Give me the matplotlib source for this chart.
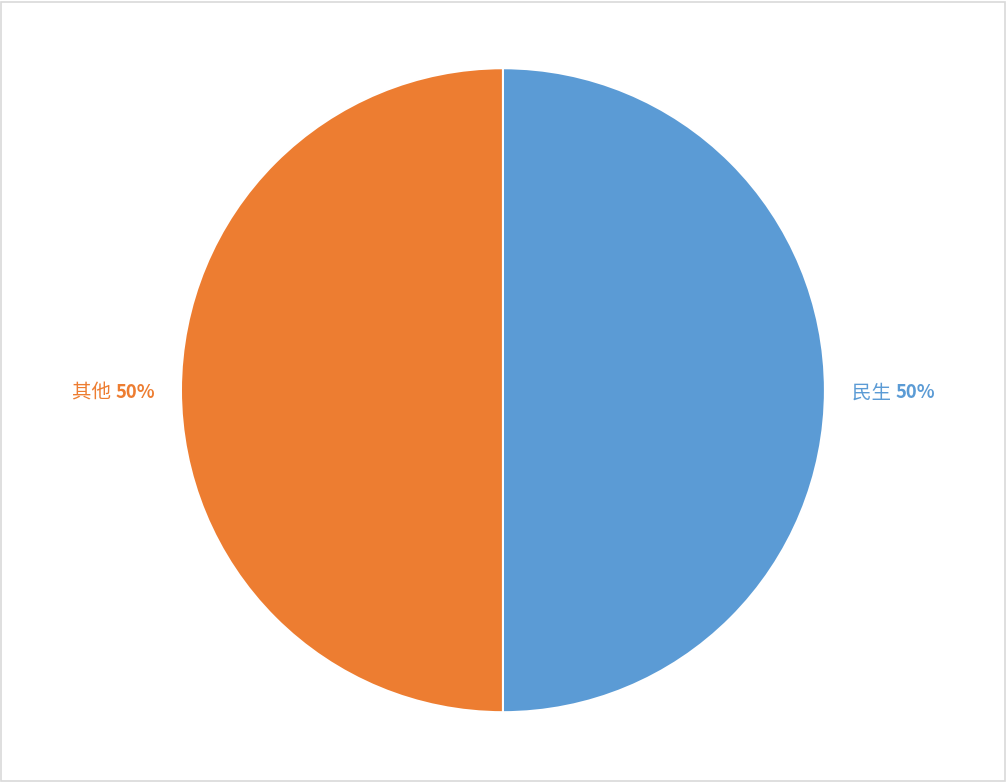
import matplotlib.pyplot as plt
from matplotlib.patches import Rectangle

categories = ["民生", "其他"]
values = [50, 50]
colors = ["#5B9BD5", "#ED7D31"]

fig = plt.figure(figsize=(10.07, 7.82), dpi=100)
ax = fig.add_axes([0.1797, 0.0885, 0.6395, 0.8250])

wedges, _ = ax.pie(values, colors=colors, startangle=90, counterclock=False,
                   radius=1.0, wedgeprops=dict(edgecolor="white", linewidth=1.5))
ax.set_xlim(-1, 1)
ax.set_ylim(-1, 1)
ax.set_aspect("equal")
ax.axis("off")

# border around the chart area
fig.patches.append(Rectangle((0.001, 0.001), 0.997, 0.997, transform=fig.transFigure,
                             fill=False, edgecolor="#D9D9D9", linewidth=1.2))

total = sum(values)
fams = ["Noto Sans CJK SC", "DejaVu Sans"]
ly = -0.008
fig.canvas.draw()
renderer = fig.canvas.get_renderer()
for name, val, col, side in zip(categories, values, colors, [1, -1]):
    pct = f"{val / total * 100:.0f}%"
    if side > 0:
        t1 = ax.text(1.084, ly, name + " ", ha="left", va="center", color=col,
                     fontsize=14, family=fams)
        bb = t1.get_window_extent(renderer)
        x2 = ax.transData.inverted().transform((bb.x1, 0))[0]
        ax.text(x2, ly, pct, ha="left", va="center", color=col, fontsize=13.3,
                fontweight="bold", family=fams)
    else:
        t2 = ax.text(-1.081, ly, pct, ha="right", va="center", color=col, fontsize=13.3,
                     fontweight="bold", family=fams)
        bb = t2.get_window_extent(renderer)
        x1 = ax.transData.inverted().transform((bb.x0, 0))[0]
        ax.text(x1, ly, name + " ", ha="right", va="center", color=col,
                fontsize=14, family=fams)

fig.savefig("out.png", dpi=100)
